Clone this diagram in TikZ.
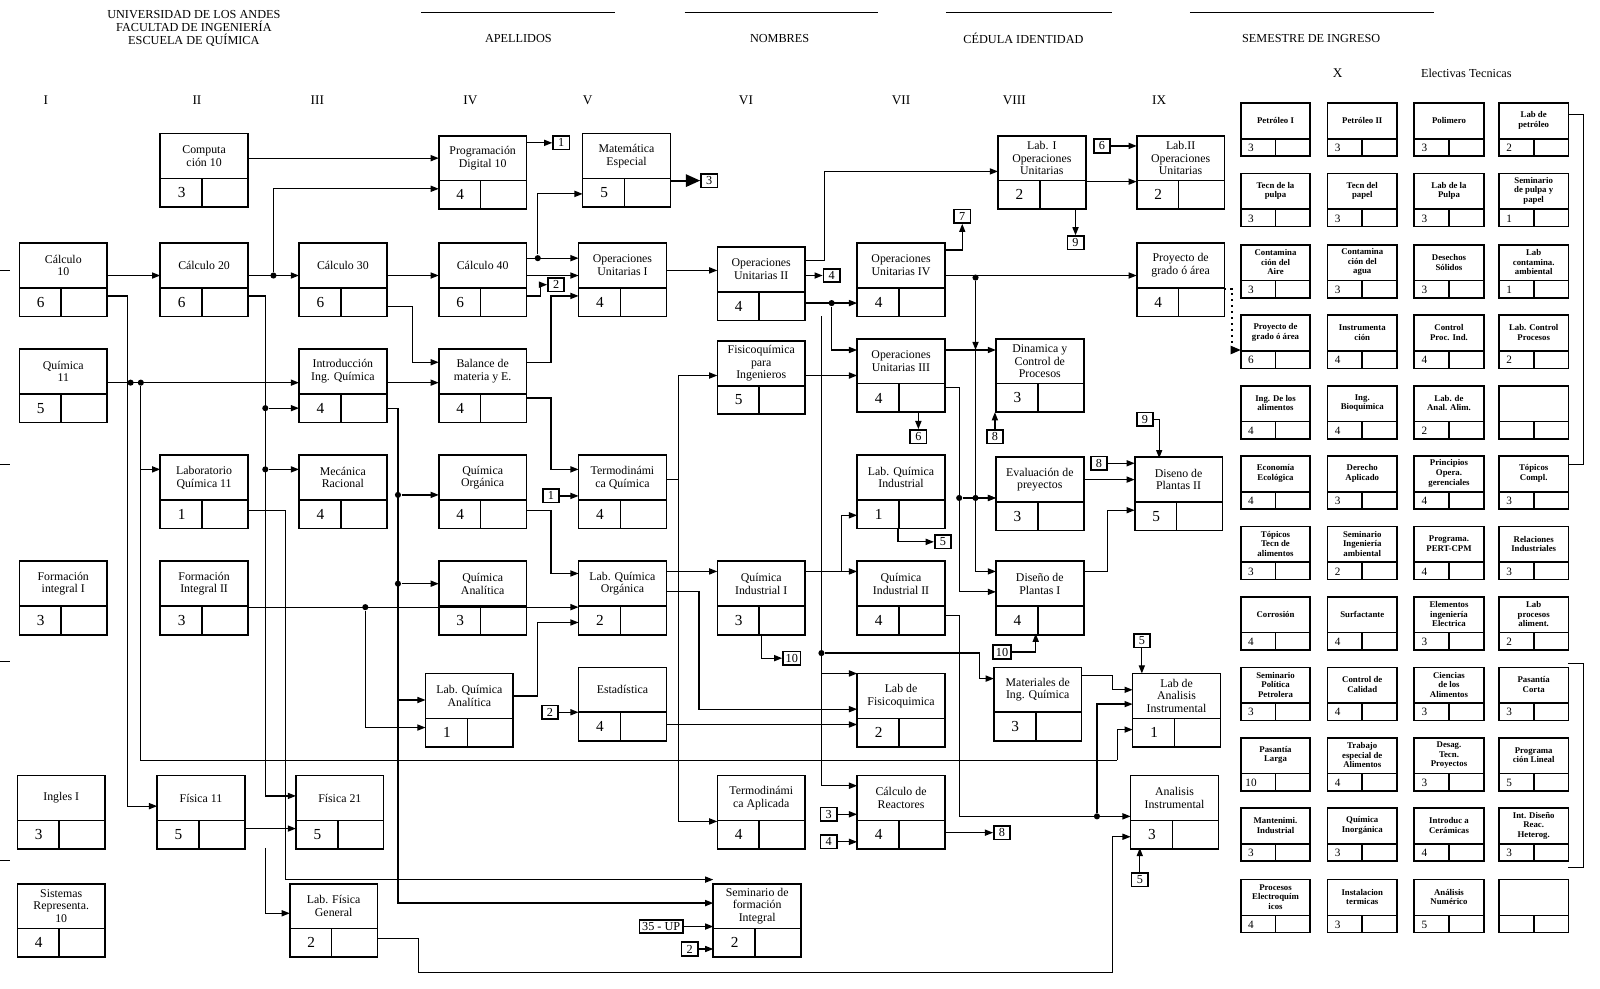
\documentclass[tikz,border=0pt]{standalone}
\usepackage{fontspec}
\setmainfont{Liberation Serif}
\usetikzlibrary{arrows.meta}
\begin{document}
\begin{tikzpicture}[x=0.5pt,y=-0.5pt,line width=0.6pt,
 cbox/.style={draw,line width=0.8pt,minimum width=43pt,minimum height=36pt,inner sep=0pt},
 ctext/.style={font=\fontsize{5.8}{6.2}\selectfont,align=center,inner sep=0pt},
 cnum/.style={font=\fontsize{7.5}{8}\selectfont,inner sep=0pt},
 ebox/.style={draw,line width=0.8pt,minimum width=34pt,minimum height=26pt,inner sep=0pt},
 etext/.style={font=\fontsize{4.3}{4.7}\selectfont\bfseries,align=center,inner sep=0pt},
 enum/.style={font=\fontsize{5.5}{6}\selectfont,inner sep=0pt},
 lbl/.style={draw,line width=0.8pt,font=\fontsize{6}{6}\selectfont,inner sep=1.3pt,minimum width=8pt,fill=white},
 hdr/.style={font=\fontsize{6}{6.5}\selectfont,align=center,inner sep=0pt},
 ar/.style={-{Triangle[length=4pt,width=3pt]}},
 dot/.style={circle,fill,inner sep=0pt,minimum size=3pt}]
\useasboundingbox (0,0) rectangle (1568,969);
\newcommand\crs[5]{%
 \node[cbox] (#1) at (#2,#3) {};
 \draw[line width=0.8pt] (#2-43,#3+8) -- (#2+43,#3+8) (#2-2,#3+8) -- (#2-2,#3+36);
 \node[ctext] at (#2,#3-14) {#4};
 \node[cnum] at (#2-22,#3+22) {#5};}
\newcommand\elc[5]{%
 \node[ebox] (#1) at (#2,#3+26) {};
 \draw[line width=0.8pt] (#2-34,#3+35) -- (#2+34,#3+35) (#2,#3+35) -- (#2,#3+52);
 \node[etext] at (#2,#3+17) {#4};
 \node[enum] at (#2-24,#3+44) {#5};}
% header
\node[hdr] (u) at (190,28) {UNIVERSIDAD DE LOS ANDES\\FACULTAD DE INGENIERÍA\\ESCUELA DE QUÍMICA};
\draw (413,12) -- (603,12) (671,12) -- (860,12) (927,12) -- (1090,12) (1166,12) -- (1405,12);
\node[hdr] at (508,38) {APELLIDOS};
\node[hdr] at (764,38) {NOMBRES};
\node[hdr] at (1003,38) {CÉDULA IDENTIDAD};
\node[hdr] at (1285,38) {SEMESTRE DE INGRESO};
\foreach \t/\x in {I/45,II/193,III/311,IV/461,V/576,VI/731,VII/883,VIII/994,IX/1136}
 \node[hdr,font=\fontsize{6.5}{7}\selectfont] at (\x,98) {\t};
\node[hdr,font=\fontsize{6.5}{7}\selectfont] at (1311,72) {X};
\node[hdr] at (1437,72) {Electivas Tecnicas};
\draw (0,265) -- (10,265) (0,455) -- (10,455) (0,648) -- (10,648) (0,843) -- (10,843);
% courses
\crs{comp}{200}{167}{Computa\\ción 10}{3}
\crs{prog}{473}{169}{Programación\\Digital 10}{4}
\crs{mate}{614}{167}{Matemática\\Especial}{5}
\crs{labi}{1021}{169}{Lab. I\\Operaciones\\Unitarias}{2}
\crs{labii}{1157}{169}{Lab.II\\Operaciones\\Unitarias}{2}
\crs{c10}{62}{274}{Cálculo\\10}{6}
\crs{c20}{200}{274}{Cálculo 20}{6}
\crs{c30}{336}{274}{Cálculo 30}{6}
\crs{c40}{473}{274}{Cálculo 40}{6}
\crs{opi}{610}{274}{Operaciones\\Unitarias I}{4}
\crs{opii}{746}{278}{Operaciones\\Unitarias II}{4}
\crs{opiv}{883}{274}{Operaciones\\Unitarias IV}{4}
\crs{proy}{1157}{274}{Proyecto de\\grado ó área}{4}
\crs{q11}{62}{378}{Química\\11}{5}
\crs{intro}{336}{378}{Introducción\\Ing. Química}{4}
\crs{bal}{473}{378}{Balance de\\materia y E.}{4}
\crs{fisq}{746}{370}{Fisicoquímica\\para\\Ingenieros}{5}
\crs{opiii}{883}{368}{Operaciones\\Unitarias III}{4}
\crs{din}{1019}{368}{Dinamica y\\Control de\\Procesos}{3}
\crs{labq}{200}{482}{Laboratorio\\Química 11}{1}
\crs{mec}{336}{482}{Mecánica\\Racional}{4}
\crs{qorg}{473}{482}{Química\\Orgánica}{4}
\crs{tq}{610}{482}{Termodinámi\\ca Química}{4}
\crs{lqi}{883}{482}{Lab. Química\\Industrial}{1}
\crs{eval}{1019}{484}{Evaluación de\\preyectos}{3}
\crs{dpii}{1155}{484}{Diseno de\\Plantas II}{5}
\crs{fi1}{62}{586}{Formación\\integral I}{3}
\crs{fi2}{200}{586}{Formación\\Integral II}{3}
\crs{qan}{473}{586}{Química\\Analítica}{3}
\crs{lqo}{610}{586}{Lab. Química\\Orgánica}{2}
\crs{qi1}{746}{586}{Química\\Industrial I}{3}
\crs{qi2}{883}{586}{Química\\Industrial II}{4}
\crs{dpi}{1019}{586}{Diseño de\\Plantas I}{4}
\crs{lqa}{460}{696}{Lab. Química\\Analítica}{1}
\crs{est}{610}{690}{Estadística}{4}
\crs{lfq}{883}{696}{Lab de\\Fisicoquimica}{2}
\crs{mat}{1017}{690}{Materiales de\\Ing. Química}{3}
\crs{lai}{1153}{696}{Lab de\\Analisis\\Instrumental}{1}
\crs{ing}{60}{796}{Ingles I}{3}
\crs{f11}{197}{796}{Física 11}{5}
\crs{f21}{333}{796}{Física 21}{5}
\crs{ta}{746}{796}{Termodinámi\\ca Aplicada}{4}
\crs{cr}{883}{796}{Cálculo de\\Reactores}{4}
\crs{ai}{1151}{796}{Analisis\\Instrumental}{3}
\crs{sr}{60}{902}{Sistemas\\Representa.\\10}{4}
\crs{lfg}{327}{902}{Lab. Física\\General}{2}
\crs{sem}{742}{902}{Seminario de\\formación\\Integral}{2}
% labels
\node[lbl] (l1) at (550,140) {1};
\node[lbl] (l3) at (695,177) {3};
\node[lbl] (l2a) at (545,279) {2};
\node[lbl] (l4) at (815,270) {4};
\node[lbl] (l7) at (943,212) {7};
\node[lbl] (l9) at (1054,238) {9};
\node[lbl] (l6a) at (1080,143) {6};
\node[lbl] (l6b) at (900,428) {6};
\node[lbl] (l8a) at (975,428) {8};
\node[lbl] (l1b) at (540,486) {1};
\node[lbl] (l5a) at (924,531) {5};
\node[lbl] (l8b) at (1077,454) {8};
\node[lbl] (l9b) at (1122,411) {9};
\node[lbl] (l10a) at (776,645) {10};
\node[lbl] (l10b) at (982,639) {10};
\node[lbl] (l2b) at (539,698) {2};
\node[lbl] (l5b) at (1119,628) {5};
\node[lbl] (l3b) at (812,798) {3};
\node[lbl] (l4b) at (812,825) {4};
\node[lbl] (l8c) at (982,816) {8};
\node[lbl] (l5c) at (1117,862) {5};
\node[lbl] (lup) at (648,908) {35 - UP};
\node[lbl] (l2c) at (676,930) {2};
% connectors
\draw[ar] (243,155) -- (430,155);
\draw[ar] (516,140) -- (l1.west);
\draw[-{Triangle[length=7pt,width=6pt]},line width=1pt] (657,177) -- (l3.west);
\draw[ar] (105,270) -- (157,270);
\draw[ar] (243,270) -- (293,270);
\node[dot] (d268) at (268,270) {};
\draw[ar] (d268) -- (268,185) -- (430,185);
\draw[ar] (379,270) -- (430,270);
\draw[ar] (516,270) -- (567,270);
\node[dot] (d527) at (527,253) {};
\draw[ar] (516,253) -- (567,253);
\draw[ar] (d527) -- (527,190) -- (571,190);
\draw[ar] (516,290) -- (530,290) |- (l2a.west);
\draw[ar] (653,265) -- (703,265);
\draw[ar] (789,270) -- (l4.west);
\node[dot] (d815) at (815,297) {};
\draw[ar] (789,297) -- (840,297);
\draw[ar] (d815) -- (815,343) -- (840,343);
\draw[ar] (789,255) -- (808,255) -- (808,168) -- (978,168);
\draw[ar] (926,245) -| (l7.south);
\draw[ar] (1054,206) -- (l9.north);
\draw[ar] (1064,178) -- (1114,178);
\draw[ar] (l6a.east) -- (1114,143);
\draw[ar] (926,270) -- (1114,270);
\node[dot] (d956) at (956,272) {};
\draw[ar] (d956) -- (956,343);
\draw[ar] (956,343) -- (956,560) -- (976,560);
\node[dot] (d956b) at (956,488) {};
\draw[ar] (d956b) -- (976,488);
\draw[ar] (926,343) -- (976,343);
\node[dot] (d940) at (940,488) {};
\draw[ar] (926,380) -- (940,380) -- (940,580) -- (976,580);
\draw[ar] (d940) -- (976,488);
\draw[ar] (l8a.north) -- (975,404);
\draw[ar] (900,404) -- (l6b.north);
\draw[ar] (789,368) -- (840,368);
\node[dot] (d128) at (128,375) {};
\node[dot] (d138) at (138,375) {};
\draw[ar] (105,375) -- (293,375);
\draw[ar] (d138) -- (138,460) -- (157,460);
\draw[ar] (105,290) -- (125,290) -- (125,790) -- (154,790);
\draw (d138) -- (138,745) -- (1095,745);
\draw[ar] (1095,745) -- (1095,715) -- (1110,715);
\draw[ar] (379,300) -- (404,300) -- (404,355) -- (430,355);
\draw[ar] (379,375) -- (430,375);
\draw[ar] (516,355) -- (540,355) -- (540,290) -- (567,290);
\draw[ar] (516,390) -- (540,390) -- (540,460) -- (567,460);
\draw[ar] (l1b.east) -- (567,486);
\node[dot] (d260a) at (260,400) {};
\node[dot] (d260b) at (260,460) {};
\draw (243,290) -- (260,290) -- (260,780);
\draw[ar] (d260a) -- (293,400);
\draw[ar] (d260b) -- (293,460);
\draw[ar] (260,780) -- (290,780);
\draw[ar] (379,400) -- (390,400) -- (390,686) -- (417,686);
\node[dot] (d390a) at (390,485) {};
\node[dot] (d390b) at (390,572) {};
\draw[ar] (d390a) -- (430,485);
\draw[ar] (d390b) -- (430,572);
\draw[ar] (390,686) -- (390,885) -- (699,885);
\draw[ar] (516,500) -- (540,500) -- (540,562) -- (567,562);
\node[dot] (d358) at (358,595) {};
\draw[ar] (243,595) -- (567,595);
\draw[ar] (243,500) -- (280,500) -- (280,862) -- (699,862);
\draw[ar] (240,812) -- (290,812);
\draw[ar] (260,831) -- (260,895) -- (284,895);
\draw[ar] (d358) -- (358,713) -- (417,713);
\draw[ar] (503,682) -- (527,682) -- (527,610) -- (567,610);
\draw[ar] (l2b.east) -- (567,698);
\draw[ar] (653,470) -- (665,470) -- (665,368) -- (703,368);
\draw[ar] (665,470) -- (665,805) -- (703,805);
\draw[ar] (653,560) -- (703,560);
\draw[ar] (653,710) -- (840,710);
\draw[ar] (653,580) -- (685,580) -- (685,695) -- (840,695);
\draw[ar] (746,621) -- (746,645) -- (l10a.west);
\node[dot] (d805) at (805,640) {};
\draw[ar] (789,560) -- (825,560) -- (825,505) -- (840,505);
\draw[ar] (825,560) -- (840,560);
\draw (805,310) -- (805,770);
\draw[ar] (d805) -- (960,640) -- (960,665) -- (974,665);
\draw[ar] (805,660) -- (840,660);
\draw[ar] (805,770) -- (840,770);
\draw[ar] (880,518) -- (880,531) -- (l5a.west);
\draw[ar] (926,603) -- (940,603) -- (940,800) -- (1108,800);
\node[dot] (d1075) at (1075,800) {};
\draw[ar] (d1075) -- (1075,690) -- (1110,690);
\draw[ar] (l10b.east) -- (1015,639) -- (1015,621);
\draw[ar] (1062,560) -- (1085,560) -- (1085,500) -- (1112,500);
\draw[ar] (1062,470) -- (1112,470);
\draw[ar] (l8b.east) -- (1112,454);
\draw[ar] (l9b.east) -- (1136,411) -- (1136,449);
\draw[ar] (1060,662) -- (1090,662) -- (1090,676) -- (1110,676);
\draw[ar] (l5b.south) -- (1119,660);
\draw[ar] (l3b.east) -- (840,798);
\draw[ar] (l4b.east) -- (840,825);
\draw[ar] (926,816) -- (l8c.west);
\draw[ar] (l5c.north) -- (1117,831);
\draw[ar] (370,920) -- (410,920) -- (410,953) -- (1090,953) -- (1090,820) -- (1108,820);
\draw[ar] (lup.east) -- (699,908);
\draw[ar] (l2c.east) -- (699,930);
% electives
\elc{e11}{1250}{101}{Petróleo I}{3}
\elc{e12}{1335}{101}{Petróleo II}{3}
\elc{e13}{1420}{101}{Polimero}{3}
\elc{e14}{1503}{101}{Lab de\\petróleo}{2}
\elc{e21}{1250}{170}{Tecn de la\\pulpa}{3}
\elc{e22}{1335}{170}{Tecn del\\papel}{3}
\elc{e23}{1420}{170}{Lab de la\\Pulpa}{3}
\elc{e24}{1503}{170}{Seminario\\de pulpa y\\papel}{1}
\elc{e31}{1250}{240}{Contamina\\ción del\\Aire}{3}
\elc{e32}{1335}{240}{Contamina\\ción del\\agua}{3}
\elc{e33}{1420}{240}{Desechos\\Sólidos}{3}
\elc{e34}{1503}{240}{Lab\\contamina.\\ambiental}{1}
\elc{e41}{1250}{309}{Proyecto de\\grado ó área}{6}
\elc{e42}{1335}{309}{Instrumenta\\ción}{4}
\elc{e43}{1420}{309}{Control\\Proc. Ind.}{4}
\elc{e44}{1503}{309}{Lab. Control\\Procesos}{2}
\elc{e51}{1250}{378}{Ing. De los\\alimentos}{4}
\elc{e52}{1335}{378}{Ing.\\Bioquímica}{4}
\elc{e53}{1420}{378}{Lab. de\\Anal. Alim.}{2}
\elc{e54}{1503}{378}{}{}
\elc{e61}{1250}{447}{Economía\\Ecológica}{4}
\elc{e62}{1335}{447}{Derecho\\Aplicado}{3}
\elc{e63}{1420}{447}{Principios\\Opera.\\gerenciales}{4}
\elc{e64}{1503}{447}{Tópicos\\Compl.}{3}
\elc{e71}{1250}{516}{Tópicos\\Tecn de\\alimentos}{3}
\elc{e72}{1335}{516}{Seminario\\Ingeniería\\ambiental}{2}
\elc{e73}{1420}{516}{Programa.\\PERT-CPM}{4}
\elc{e74}{1503}{516}{Relaciones\\Industriales}{3}
\elc{e81}{1250}{585}{Corrosión}{4}
\elc{e82}{1335}{585}{Surfactante}{4}
\elc{e83}{1420}{585}{Elementos\\ingeniería\\Electrica}{3}
\elc{e84}{1503}{585}{Lab\\procesos\\aliment.}{2}
\elc{e91}{1250}{654}{Seminario\\Política\\Petrolera}{3}
\elc{e92}{1335}{654}{Control de\\Calidad}{4}
\elc{e93}{1420}{654}{Ciencias\\de los\\Alimentos}{3}
\elc{e94}{1503}{654}{Pasantía\\Corta}{3}
\elc{ea1}{1250}{723}{Pasantía\\Larga}{10}
\elc{ea2}{1335}{723}{Trabajo\\especial de\\Alimentos}{4}
\elc{ea3}{1420}{723}{Desag.\\Tecn.\\Proyectos}{3}
\elc{ea4}{1503}{723}{Programa\\ción Lineal}{5}
\elc{eb1}{1250}{792}{Mantenimi.\\Industrial}{3}
\elc{eb2}{1335}{792}{Química\\Inorgánica}{3}
\elc{eb3}{1420}{792}{Introduc a\\Cerámicas}{4}
\elc{eb4}{1503}{792}{Int. Diseño\\Reac.\\Heterog.}{3}
\elc{ec1}{1250}{862}{Procesos\\Electroquím\\icos}{4}
\elc{ec2}{1335}{862}{Instalacion\\termicas}{3}
\elc{ec3}{1420}{862}{Análisis\\Numérico}{5}
\elc{ec4}{1503}{862}{}{}
\draw (1537,112) -- (1552,112) -- (1552,455) -- (1537,455);
\draw (1537,650) -- (1552,650) -- (1552,850) -- (1537,850);
\draw[dotted,line width=0.9pt,-{Triangle[length=5pt,width=4pt]}] (1200,283) -- (1207,283) -- (1207,343) -- (1216,343);
\end{tikzpicture}
\end{document}
